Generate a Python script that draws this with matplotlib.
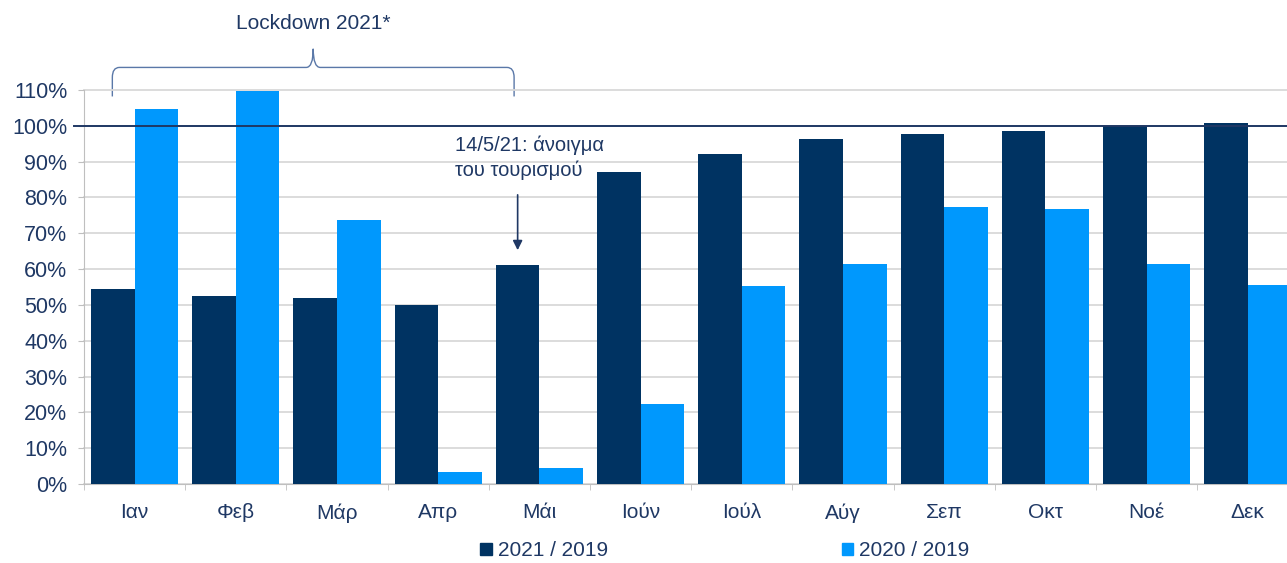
import matplotlib.pyplot as plt
import numpy as np
from matplotlib.path import Path
from matplotlib.patches import PathPatch, Rectangle

plt.rcParams['font.family'] = ['Liberation Sans', 'DejaVu Sans']

months = ['Ιαν', 'Φεβ', 'Μάρ', 'Απρ', 'Μάι', 'Ιούν', 'Ιούλ', 'Αύγ', 'Σεπ', 'Οκτ', 'Νοέ', 'Δεκ']
r2021 = [54.5, 52.5, 52.0, 50.0, 61.2, 87.2, 92.2, 96.4, 97.8, 98.6, 100.0, 100.8]
r2020 = [104.7, 109.8, 73.7, 3.4, 4.5, 22.3, 55.3, 61.5, 77.4, 76.8, 61.5, 55.6]
yticks = [0, 10, 20, 30, 40, 50, 60, 70, 80, 90, 100, 110]

navy = '#003362'
light = '#0098FD'
txt = '#1F3864'
grid = '#D9D9D9'

fig = plt.figure(figsize=(12.87, 5.63), dpi=100)
ax = fig.add_axes([84 / 1287, 79 / 563, 1203 / 1287, 394 / 563])

x = np.arange(len(months))
w = 0.43
ax.bar(x - w / 2, r2021, w, color=navy, zorder=3, label='2021 / 2019')
ax.bar(x + w / 2, r2020, w, color=light, zorder=3, label='2020 / 2019')

ax.set_yticks(yticks)
ax.set_yticklabels([f'{v}%' for v in yticks])
ax.set_xticks(x)
ax.set_xticklabels(months)
ax.set_xticks(np.arange(len(months)) - 0.5, minor=True)
ax.set_ylim(0, 110)
ax.set_xlim(-0.5, -0.5 + 1203 / 101.2)
ax.tick_params(axis='x', which='major', length=0, pad=14, labelsize=15, labelcolor=txt)
ax.tick_params(axis='x', which='minor', length=4, color='#BFBFBF', direction='out')
ax.tick_params(axis='y', length=4, color='#BFBFBF', pad=8, labelsize=15.5, labelcolor=txt)
ax.grid(axis='y', color=grid, lw=1.3, zorder=0, clip_on=False)
for s in ['top', 'right']:
    ax.spines[s].set_visible(False)
ax.spines['left'].set_color('#BFBFBF')
ax.spines['bottom'].set_color('#BFBFBF')

# 100% reference line
ax.axhline(100, color=txt, lw=1.4, zorder=4, xmin=-0.008, clip_on=False)

# lockdown brace
x0, x1 = -0.22, 3.75
xm = (x0 + x1) / 2
yb, yh, yp = 108.2, 116.3, 121.5
dx, dy = 0.07, 2.8
verts = [(x0, yb), (x0, yh - dy), (x0, yh), (x0 + dx, yh),
         (xm - dx, yh), (xm, yh), (xm, yp),
         (xm, yh), (xm + dx, yh),
         (x1 - dx, yh), (x1, yh), (x1, yh - dy), (x1, yb)]
codes = [Path.MOVETO, Path.LINETO, Path.CURVE3, Path.CURVE3,
         Path.LINETO, Path.CURVE3, Path.CURVE3,
         Path.CURVE3, Path.CURVE3,
         Path.LINETO, Path.CURVE3, Path.CURVE3, Path.LINETO]
ax.add_patch(PathPatch(Path(verts, codes), fill=False, ec='#5A78A8', lw=1.0, clip_on=False))
ax.text(xm, 128.5, 'Lockdown 2021*', ha='center', va='center', fontsize=15, color=txt, clip_on=False)

# tourism opening annotation
ax.annotate('', xy=(4 - w / 2, 64.5), xytext=(4 - w / 2, 81.5),
            arrowprops=dict(arrowstyle='-|>', color=txt, lw=1.2, mutation_scale=14))
ax.text(3.17, 97.3, '14/5/21: άνοιγμα\nτου τουρισμού', ha='left', va='top',
        fontsize=14.5, color=txt, linespacing=1.35)

ax.set_xlim(-0.5, -0.5 + 1203 / 101.2)

handles = [Rectangle((0, 0), 1, 1, color=navy), Rectangle((0, 0), 1, 1, color=light)]
fig.legend(handles, ['2021 / 2019', '2020 / 2019'], loc='center',
           bbox_to_anchor=(725 / 1287, 1 - 551 / 563), ncol=2, frameon=False,
           fontsize=15, labelcolor=txt, handlelength=0.55, handleheight=0.55,
           handletextpad=0.3, columnspacing=11.2)

fig.savefig('out.png', dpi=100)
